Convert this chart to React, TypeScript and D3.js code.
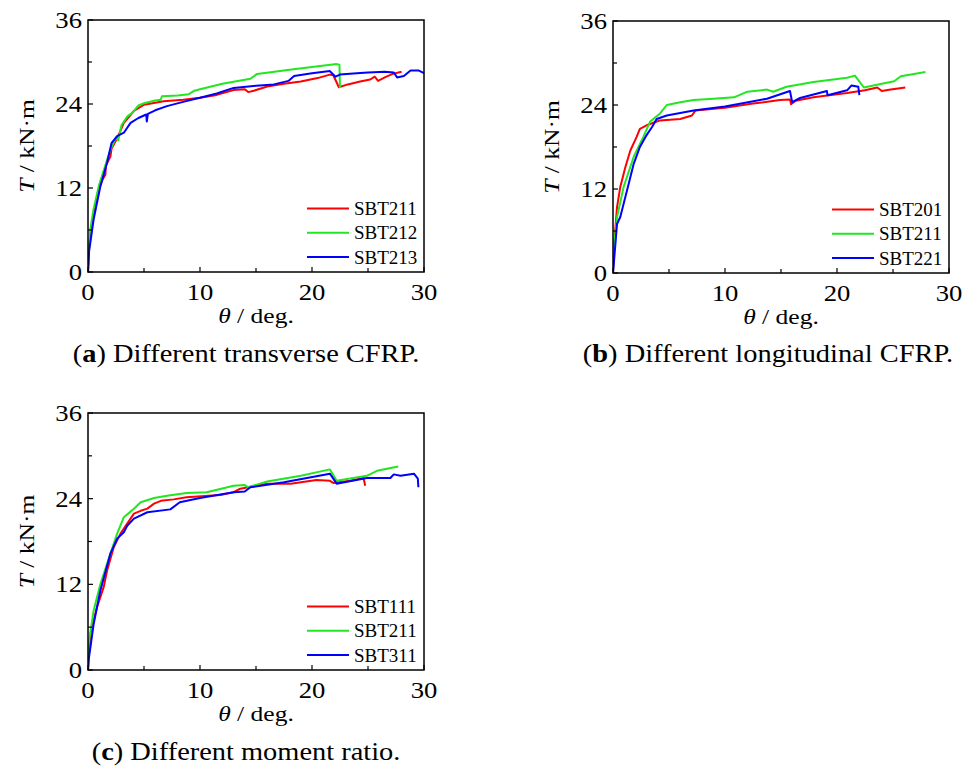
import React from "react";
import * as d3 from "d3";

// ---------- data (theta in deg, T in kN·m) ----------
const xTicks = [0, 10, 20, 30];
const xMinorTicks = [5, 15, 25];
const yTicks = [0, 12, 24, 36];
const yMinorTicks = [6, 18, 30];

const legendA = ["SBT211", "SBT212", "SBT213"];
const legendB = ["SBT201", "SBT211", "SBT221"];
const legendC = ["SBT111", "SBT211", "SBT311"];

const captionA = "Different transverse CFRP.";
const captionB = "Different longitudinal CFRP.";
const captionC = "Different moment ratio.";

// Panel (a)
const aSBT211: [number, number][] = [
  [0, 0], [0.1, 3.5], [0.4, 7.5], [0.9, 11.5], [1.3, 13.2], [1.55, 13.9], [1.6, 15.2], [2.0, 16.5], [2.1, 17.6], [2.6, 19.1],
  [3.2, 21.3], [4.1, 23.0], [5.0, 23.9], [6.75, 24.4], [8.5, 24.6], [10, 24.9], [11.5, 25.3], [13, 26.0], [14.0, 26.1],
  [14.3, 25.7], [14.8, 25.9], [16, 26.5], [17.5, 26.9], [19, 27.2], [20.5, 27.7], [21.6, 28.2], [21.9, 28.1], [22.4, 26.4],
  [23.2, 26.8], [24.3, 27.2], [25.2, 27.5], [25.6, 27.9], [25.9, 27.3], [26.5, 27.8], [27.2, 28.3], [28.0, 28.6],
];
const aSBT212: [number, number][] = [
  [0, 0], [0.05, 3], [0.2, 6], [0.5, 9], [1.0, 12.5], [1.5, 15], [2.0, 17.5], [2.5, 19.2], [2.7, 18.8], [2.8, 19.6],
  [3.0, 21], [3.5, 22.2], [4.0, 22.8], [4.5, 23.8], [5.0, 24.1], [6.0, 24.5], [6.5, 24.6], [6.6, 25.1], [8.0, 25.2],
  [9.0, 25.4], [9.5, 25.9], [10, 26.1], [12, 26.9], [14.5, 27.6], [15.1, 28.3], [18, 28.9], [20, 29.3], [22.2, 29.7],
  [22.45, 29.6], [22.5, 26.3],
];
const aSBT213: [number, number][] = [
  [0, 0], [0.1, 3], [0.5, 7.5], [1.1, 12.2], [1.7, 15.6], [2.1, 18.4], [2.6, 19.4], [3.2, 19.9], [3.8, 21.3],
  [4.5, 22.0], [5.2, 22.5], [5.25, 21.5], [5.35, 22.6], [6.0, 23.1], [7.05, 23.7], [8.5, 24.3], [10, 24.9], [11.5, 25.5],
  [13, 26.3], [15, 26.6], [16.6, 26.8], [17.9, 27.3], [18.4, 28.0], [20, 28.4], [21.6, 28.7], [22.1, 27.9], [22.5, 28.2],
  [24, 28.4], [25, 28.5], [26.5, 28.6], [27.3, 28.5], [27.6, 27.8], [28.2, 28.0], [28.8, 28.8], [29.5, 28.8], [30, 28.4],
];

// Panel (b)
const bSBT201: [number, number][] = [
  [0, 0], [0.1, 4], [0.36, 9.4], [0.65, 12.3], [1.1, 15.1], [1.55, 17.5], [2.1, 19.4], [2.4, 20.6], [3.0, 21.1],
  [4.2, 21.8], [6.0, 22.0], [7.05, 22.5], [7.35, 23.2], [10, 23.6], [12.5, 24.2], [14.9, 24.7], [15.8, 24.8],
  [15.9, 24.1], [16.3, 24.6], [17.9, 25.1], [20.9, 25.7], [22.5, 26.1], [23.6, 26.5], [24.0, 26.0], [24.8, 26.2],
  [26.1, 26.5],
];
const bSBT211: [number, number][] = [
  [0, 0], [0.02, 2.8], [0.36, 8], [0.95, 12.3], [1.85, 16.6], [2.7, 19.4], [3.3, 21.6], [4.2, 22.8], [4.8, 24.0],
  [6.0, 24.4], [7.2, 24.7], [9.0, 24.9], [10.8, 25.1], [12, 25.9], [13.75, 26.2], [14.3, 25.9], [15.5, 26.6],
  [17.9, 27.3], [20.9, 27.9], [21.6, 28.2], [22.4, 26.5], [23.9, 27.0], [25.1, 27.4], [25.7, 28.1], [27.9, 28.7],
];
const bSBT221: [number, number][] = [
  [0, 0], [0.05, 0.9], [0.36, 7], [0.65, 8], [1.25, 11.8], [1.85, 15.6], [2.4, 18], [3.0, 19.7], [3.5, 20.9],
  [3.9, 22], [4.8, 22.5], [7.2, 23.2], [10, 23.8], [13.75, 24.9], [15.8, 26.0], [16.0, 24.4], [16.7, 25.0],
  [19.1, 26.0], [19.15, 25.4], [20.9, 26.1], [21.3, 26.8], [21.9, 26.6], [22.0, 25.4],
];

// Panel (c)
const cSBT111: [number, number][] = [
  [0, 0], [0.2, 5], [0.8, 8.8], [1.4, 11.6], [1.7, 13.9], [2.3, 17.2], [2.9, 19.1], [3.5, 20.5], [4.1, 21.9],
  [4.7, 22.3], [5.3, 22.6], [5.9, 23.3], [6.5, 23.7], [7.65, 23.9], [8.8, 24.2], [11.8, 24.5], [13, 24.9],
  [13.6, 25.4], [16, 26.1], [18.1, 26.1], [20.4, 26.6], [21.6, 26.5], [21.9, 26.2], [23.4, 26.5], [24.6, 26.9],
  [24.75, 25.8],
];
const cSBT211: [number, number][] = [
  [0, 0], [0.05, 3.6], [0.5, 8.3], [1.1, 12], [2.0, 16.3], [2.6, 19.1], [3.2, 21.4], [4.1, 22.6], [4.7, 23.5],
  [5.9, 24.1], [7.05, 24.4], [8.8, 24.8], [10.6, 24.9], [13, 25.8], [14, 25.9], [14.3, 25.6], [16, 26.4],
  [19, 27.2], [21.6, 28.1], [22.2, 26.5], [24.9, 27.2], [25.8, 27.9], [27.7, 28.5],
];
const cSBT311: [number, number][] = [
  [0, 0], [0.05, 1.3], [0.5, 6.4], [1.1, 11.1], [2.0, 16.3], [2.6, 18.4], [3.2, 19.3], [3.5, 20.2], [4.1, 21.2],
  [5.3, 22.1], [7.35, 22.5], [8.2, 23.5], [10, 24.1], [13, 24.9], [14, 25.0], [14.5, 25.6], [17.5, 26.3],
  [21.6, 27.5], [22.2, 26.1], [24.9, 26.9], [27, 26.9], [27.3, 27.4], [27.9, 27.2], [29.1, 27.5], [29.45, 26.8],
  [29.5, 25.6],
];

const seriesColors = ["#ff0000", "#22e622", "#0000ff"];

// ---------- components ----------
const FONT = "'Liberation Serif', 'Times New Roman', serif";
const SX = 1.16; // horizontal stretch of text in the reference

type Panel = {
  id: string;
  left: number;
  top: number;
  right: number;
  bottom: number;
  series: [number, number][][];
  names: string[];
  caption: string;
  capX: number;
  capY: number;
};

function PanelChart({ p }: { p: Panel }) {
  const x = d3.scaleLinear().domain([0, 30]).range([p.left, p.right]);
  const y = d3.scaleLinear().domain([0, 36]).range([p.bottom, p.top]);
  const line = d3
    .line<[number, number]>()
    .x((d) => x(d[0]))
    .y((d) => y(d[1]));
  const clipId = `clip-${p.id}`;
  const tickLen = 5;
  const minorLen = 4;
  const cx = (p.left + p.right) / 2;
  const cy = (p.top + p.bottom) / 2;
  return (
    <g>
      <defs>
        <clipPath id={clipId}>
          <rect x={p.left} y={p.top - 2} width={p.right - p.left + 2} height={p.bottom - p.top + 2} />
        </clipPath>
      </defs>
      <g clipPath={`url(#${clipId})`}>
        {p.series.map((s, i) => (
          <path key={i} d={line(s) || ""} fill="none" stroke={seriesColors[i]} strokeWidth={2} strokeLinejoin="round" />
        ))}
      </g>
      {/* ticks */}
      {xTicks.map((t) => (
        <line key={"xt" + t} x1={x(t)} x2={x(t)} y1={p.bottom} y2={p.bottom - tickLen} stroke="#000" strokeWidth={1.2} />
      ))}
      {xMinorTicks.map((t) => (
        <line key={"xm" + t} x1={x(t)} x2={x(t)} y1={p.bottom} y2={p.bottom - minorLen} stroke="#000" strokeWidth={1.2} />
      ))}
      {yTicks.map((t) => (
        <line key={"yt" + t} x1={p.left} x2={p.left + tickLen} y1={y(t)} y2={y(t)} stroke="#000" strokeWidth={1.2} />
      ))}
      {yMinorTicks.map((t) => (
        <line key={"ym" + t} x1={p.left} x2={p.left + minorLen} y1={y(t)} y2={y(t)} stroke="#000" strokeWidth={1.2} />
      ))}
      <rect x={p.left} y={p.top} width={p.right - p.left} height={p.bottom - p.top} fill="none" stroke="#000" strokeWidth={1.5} />
      {/* tick labels */}
      {xTicks.map((t) => (
        <g key={"xl" + t} transform={`translate(${x(t)},${p.bottom + 28}) scale(${SX},1)`}>
          <text textAnchor="middle" fontSize={23} fontFamily={FONT}>{t}</text>
        </g>
      ))}
      {yTicks.map((t) => (
        <g key={"yl" + t} transform={`translate(${p.left - 6},${y(t)}) scale(${SX},1)`}>
          <text textAnchor="end" dy="0.35em" fontSize={23} fontFamily={FONT}>{t}</text>
        </g>
      ))}
      {/* axis titles */}
      <g transform={`translate(${cx},${p.bottom + 51}) scale(${SX},1)`}>
        <text textAnchor="middle" fontSize={22} fontFamily={FONT}>
          <tspan fontStyle="italic">θ</tspan>
          <tspan> / deg.</tspan>
        </text>
      </g>
      <g transform={`translate(${p.left - 54},${cy}) rotate(-90) scale(${SX},1)`}>
        <text textAnchor="middle" fontSize={22} fontFamily={FONT}>
          <tspan fontStyle="italic">T</tspan>
          <tspan> / kN·m</tspan>
        </text>
      </g>
      {/* legend */}
      {p.names.map((n, i) => {
        const ly = p.bottom - 63.5 + i * 24.3;
        return (
          <g key={"lg" + n}>
            <line x1={p.right - 117} x2={p.right - 75} y1={ly} y2={ly} stroke={seriesColors[i]} strokeWidth={2} />
            <text x={p.right - 70} y={ly} dy="0.35em" fontSize={19} fontFamily={FONT}>{n}</text>
          </g>
        );
      })}
      {/* caption */}
      <g transform={`translate(${p.capX},${p.capY}) scale(${SX},1)`}>
        <text textAnchor="middle" fontSize={24.5} fontFamily={FONT}>
          <tspan>(</tspan>
          <tspan fontWeight="bold">{p.id}</tspan>
          <tspan>) {p.caption}</tspan>
        </text>
      </g>
    </g>
  );
}

export default function App() {
  const panels: Panel[] = [
    { id: "a", left: 88, top: 20, right: 424, bottom: 272, series: [aSBT211, aSBT212, aSBT213], names: legendA, caption: captionA, capX: 246, capY: 362 },
    { id: "b", left: 613, top: 21, right: 949, bottom: 273, series: [bSBT201, bSBT211, bSBT221], names: legendB, caption: captionB, capX: 768, capY: 362 },
    { id: "c", left: 88, top: 413, right: 424, bottom: 670, series: [cSBT111, cSBT211, cSBT311], names: legendC, caption: captionC, capX: 246, capY: 760 },
  ];
  return (
    <svg
      width={971}
      height={769}
      viewBox="0 0 971 769"
      style={{ position: "absolute", left: 0, top: 0, background: "#fff" }}
    >
      <rect x={0} y={0} width={971} height={769} fill="#fff" />
      {panels.map((p) => (
        <PanelChart key={p.id} p={p} />
      ))}
    </svg>
  );
}
